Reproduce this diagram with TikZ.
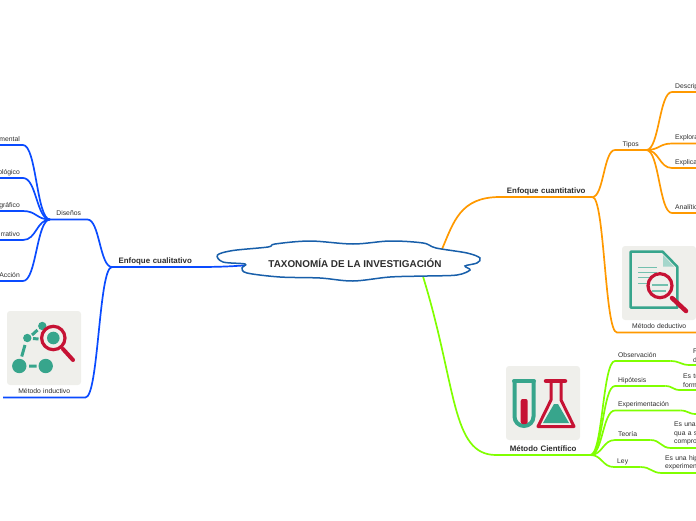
\documentclass[tikz,border=0pt]{standalone}
\usepackage{fontspec}
\setmainfont{Liberation Sans}
\usetikzlibrary{calc, backgrounds}

% Curves from a parent to a child, then along the child's underline
\newcommand{\linkR}[3]{%
  \coordinate (m) at ($(#2.south east)!.5!(#3.south west)$);
  \draw[#1] (#2.south east) .. controls (m |- #2.south east) and (m |- #3.south west) .. (#3.south west) -- (#3.south east);
}
\newcommand{\linkL}[3]{%
  \coordinate (m) at ($(#2.south west)!.5!(#3.south east)$);
  \draw[#1] (#2.south west) .. controls (m |- #2.south west) and (m |- #3.south east) .. (#3.south east) -- (#3.south west);
}

\begin{document}
\begin{tikzpicture}[x=1pt, y=-1pt]
  \useasboundingbox (0,0) rectangle (696,520);
  \clip (0,0) rectangle (696,520);

  % ==========================================
  % 1. COLORS & STYLES
  % ==========================================
  \definecolor{cloudBlue}{RGB}{24, 95, 170}
  \definecolor{branchBlue}{RGB}{10, 75, 255}
  \definecolor{branchOrange}{RGB}{255, 153, 0}
  \definecolor{branchGreen}{RGB}{128, 255, 0}
  \definecolor{iconBack}{RGB}{239, 239, 235}
  \definecolor{iconTeal}{RGB}{55, 165, 140}
  \definecolor{iconRed}{RGB}{198, 18, 52}
  \definecolor{inkGray}{RGB}{45, 45, 45}

  \tikzset{
    leaf/.style={
      inner xsep=3pt, inner ysep=2pt, text depth=1.5pt, text=inkGray,
      text width={#1pt-6pt}, font=\fontsize{6.8}{8.6}\selectfont
    },
    leafL/.style={leaf=#1, align=left, anchor=south west},
    leafE/.style={leaf=#1, align=right, anchor=south east},
    leafM/.style={leafL=#1, text depth=, inner ysep=2.5pt},
    head/.style={leaf=#1, align=center, anchor=south west},
    mainhead/.style={head=#1, font=\bfseries\fontsize{7.9}{9}\selectfont},
    blueln/.style={branchBlue, line width=1.7pt},
    orangeln/.style={branchOrange, line width=1.7pt},
    greenln/.style={branchGreen, line width=1.7pt},
    iconbox/.style={fill=iconBack, rounded corners=3pt}
  }

  % ==========================================
  % 2. NODES
  % ==========================================
  \node[minimum width=158pt, minimum height=26pt, inner sep=0pt, text=inkGray,
        font=\bfseries\fontsize{9.9}{11}\selectfont] (root) at (355,263) {TAXONOMÍA DE LA INVESTIGACIÓN};

  % --- Left side ---
  \node[mainhead=86] (cualit) at (112,267) {Enfoque cualitativo};
  \node[head=37] (disenos) at (50,219.5) {Diseños};
  \node[head=82] (inductivo) at (3,397.5) {Método inductivo};
  \foreach \nm/\yy/\txt in {expe/145/mental, feno/178/ológico, etno/211/gráfico, narr/240/rrativo, acci/281/Acción} {
    \node[leafE=30] (\nm) at (23,\yy) {\txt};
  }

  % --- Right side, orange ---
  \node[mainhead=92] (cuanti) at (500,197) {Enfoque cuantitativo};
  \node[head=31] (tipos) at (615,150) {Tipos};
  \node[head=84] (deductivo) at (617,332.5) {Método deductivo};
  \foreach \nm/\yy/\txt in {desc/92/Descrip, expl/143.5/Explora, expc/168/Explica, anal/213/Analític} {
    \node[leafL=30] (\nm) at (672,\yy) {\txt};
  }

  % --- Right side, green ---
  \node[mainhead=94] (cientifico) at (496,455) {Método Científico};
  \foreach \nm/\xx/\yy/\bw/\txt in {
      obs/615/361/55/Observación, hip/615/386/50/Hipótesis, exper/615/410.5/65/Experimentación,
      teo/615/440/35/Teoría, ley/614/467/26/Ley} {
    \node[leafL=\bw] (\nm) at (\xx,\yy) {\txt};
  }
  \foreach \nm/\xx/\yy/\bw/\txt in {
      obsb/690/365/16/{F\\d}, hipb/680/390/28/{Es tr\\form}, experb/696/414/8/{},
      teob/671/448/38/{Es una\\qua a s\\compro}, leyb/662/473/48/{Es una hip\\experimen}} {
    \node[leafM=\bw] (\nm) at (\xx,\yy) {\txt};
  }

  % ==========================================
  % 3. BRANCHES & CLOUD (behind the labels)
  % ==========================================
  \begin{pgfonlayer}{background}
    \clip (0,0) rectangle (696,520);

    % --- Blue ---
    \draw[blueln] (root.west) .. controls +(-25,3) and +(25,0) .. (cualit.south east) -- (cualit.south west);
    \linkL{blueln}{cualit}{disenos}
    \linkL{blueln}{cualit}{inductivo}
    \foreach \nm in {expe, feno, etno, narr, acci} {
      \linkL{blueln}{disenos}{\nm}
    }

    % --- Orange ---
    \draw[orangeln] (root.north east) .. controls +(12,-28) and +(-40,0) .. (cuanti.south west) -- (cuanti.south east);
    \linkR{orangeln}{cuanti}{tipos}
    \linkR{orangeln}{cuanti}{deductivo}
    \foreach \nm in {desc, expl, expc, anal} {
      \linkR{orangeln}{tipos}{\nm}
    }

    % --- Green ---
    \draw[greenln] (root.-11.3) .. controls +(34,110) and +(-45,0) .. (cientifico.south west) -- (cientifico.south east);
    \foreach \nm in {obs, hip, exper, teo, ley} {
      \linkR{greenln}{cientifico}{\nm}
    }
    \foreach \a/\b in {obs/obsb, hip/hipb, exper/experb, teo/teob, ley/leyb} {
      \linkR{greenln}{\a}{\b}
    }

    % --- Cloud outline ---
    \draw[cloudBlue, line width=1.5pt, fill=white] plot[smooth cycle, tension=0.55] coordinates {
      (217.5,255) (233,250.5) (268,247) (275,244) (310,241) (353,244) (390,241) (423,243) (436,248)
      (467,253) (480,258) (477,263) (465,266) (470,270) (457,275) (427,276) (390,277)
      (353,281) (320,278) (280,277) (247,273) (242,268) (245,264) (223,262)};
  \end{pgfonlayer}

  % ==========================================
  % 4. ICONS
  % ==========================================
  % --- Inductive method ---
  \fill[iconbox] (7,311) rectangle (81,385);
  \fill[iconTeal] (19.3,366) circle (7.2) (45.7,366) circle (7.2) (27.3,338) circle (4.2) (42.3,326) circle (4.2) (53.3,338) circle (6.3);
  \draw[iconTeal, line width=3pt] (29,366) -- (36.5,366) (25,345) -- (21.7,356.5) (32,335) -- (37.5,330) (33,338.5) -- (38.5,339);
  \draw[iconRed, line width=3.2pt] (53.3,338) circle (11.7);
  \draw[iconRed, line width=4pt, line cap=round] (63,349) -- (73,360);

  % --- Deductive method ---
  \fill[iconbox] (622,246) rectangle (696,320);
  \draw[iconTeal, line width=2.5pt, line join=round] (630.7,251.7) -- (662.7,251.7) -- (677.3,266.7) -- (677.3,307.7) -- (630.7,307.7) -- cycle;
  \fill[iconTeal!45] (663,255) -- (663,266.5) -- (674,266.5) -- cycle;
  \foreach \yy/\xe in {267/657, 272/657, 277/652, 283/650} {
    \draw[iconTeal!70, line width=1pt] (638,\yy) -- (\xe,\yy);
  }
  \fill[iconBack] (660,285.7) circle (12);
  \draw[iconTeal!70, line width=1.4pt] (652,285) -- (668,285) (652,291) -- (666,291);
  \draw[iconRed, line width=3.2pt] (660,285.7) circle (12);
  \draw[iconRed, line width=4.5pt, line cap=round] (672,298) -- (686,311);

  % --- Scientific method ---
  \fill[iconbox] (506,366) rectangle (580,440);
  \draw[iconTeal, line width=4pt] (514.5,382) -- (514.5,416.5) arc[start angle=180, end angle=0, x radius=9.5, y radius=9.5] -- (533.5,382);
  \draw[iconTeal, line width=4pt, line cap=round] (514,381) -- (534,381);
  \fill[iconRed, rounded corners=2pt] (520.7,399) rectangle (527.7,424);
  \draw[iconRed, line width=4.5pt, line cap=round] (546,381) -- (565,381);
  \draw[iconRed, line width=3pt, line join=round] (551,383) -- (551,400) -- (538,426.5) -- (574,426.5) -- (561,400) -- (561,383);
  \fill[iconTeal] (554,404) -- (558,404) -- (569,423) -- (543,423) -- cycle;
\end{tikzpicture}
\end{document}
